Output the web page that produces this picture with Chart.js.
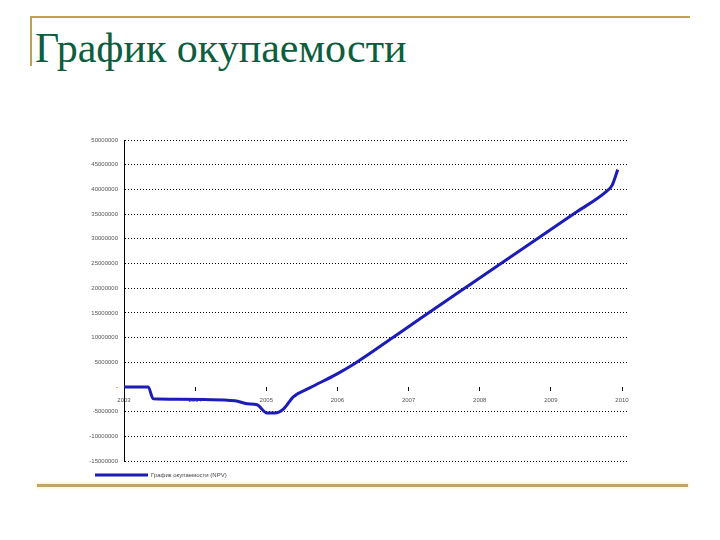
<!DOCTYPE html>
<html lang="ru">
<head>
<meta charset="utf-8">
<title>График окупаемости</title>
<script src="https://cdn.jsdelivr.net/npm/chart.js@4/dist/chart.umd.min.js"></script>
<style>
  html, body { margin: 0; padding: 0; background: #fff; }
  body { width: 720px; height: 540px; position: relative; overflow: hidden; }
  .top-rule { position: absolute; left: 30px; top: 16px; width: 660px; height: 2px; background: #bfa24a; }
  .left-rule { position: absolute; left: 30px; top: 16px; width: 2px; height: 50px; background: #bfa24a; }
  .bottom-rule { position: absolute; left: 37px; top: 484px; width: 651px; height: 3px; background: #c3a565;
    box-shadow: 0 0 3px 1px #fff3c0; }
  h1 { position: absolute; left: 35px; top: 24px; margin: 0; font: 42px "Liberation Serif", "DejaVu Serif", serif;
    color: #0c5e3e; font-weight: normal; }
  #wrap { position: absolute; left: 0; top: 0; width: 720px; height: 540px; }
</style>
</head>
<body>
<div class="top-rule"></div>
<div class="left-rule"></div>
<h1>График окупаемости</h1>
<div class="bottom-rule"></div>
<div id="wrap"><canvas id="chart"></canvas></div>
<script>
// --- DATA ---
const years = [2003.0, 2003.34, 2003.41, 2003.76, 2004.56, 2004.73, 2004.87, 2005.01, 2005.12, 2005.24,
  2005.38, 2005.61, 2005.99, 2006.25, 2006.78, 2007.16, 2007.86, 2008.85, 2009.37, 2009.79, 2009.86, 2009.94];
const npv = [0, 0, -2400000, -2500000, -2800000, -3400000, -3600000, -5300000, -5300000, -4500000,
  -2000000, -200000, 2600000, 4800000, 10000000, 13800000, 20700000, 30400000, 35500000, 39700000, 40800000, 44000000];
const yearTicks = [2003, 2004, 2005, 2006, 2007, 2008, 2009, 2010];
const valueTicks = [-15000000, -10000000, -5000000, 0, 5000000, 10000000, 15000000, 20000000,
  25000000, 30000000, 35000000, 40000000, 45000000, 50000000];
const seriesName = "График окупаемости (NPV)";

// --- CHART ---
const points = years.map((x, i) => ({ x: x, y: npv[i] }));
const lineColor = "#1c1cb8";
const tickFont = { size: 6, family: "Arial, 'Liberation Sans', sans-serif" };

new Chart(document.getElementById("chart"), {
  type: "line",
  data: {
    datasets: [
      {
        label: seriesName,
        data: points,
        borderColor: lineColor,
        backgroundColor: lineColor,
        borderWidth: 3,
        pointRadius: 0,
        pointStyle: "line",
        cubicInterpolationMode: "monotone",
        fill: false,
      },
    ],
  },
  options: {
    responsive: true,
    maintainAspectRatio: false,
    animation: false,
    layout: { padding: { left: 84, right: 93, top: 140, bottom: 52 } },
    plugins: {
      tooltip: { enabled: false },
      legend: {
        position: "bottom",
        align: "start",
        labels: {
          usePointStyle: true,
          pointStyleWidth: 53,
          padding: 11,
          color: "#444",
          font: tickFont,
        },
      },
    },
    scales: {
      x: {
        type: "linear",
        position: { y: 0 },
        min: 2003,
        max: 2010.07,
        afterBuildTicks: (scale) => { scale.ticks = yearTicks.map((v) => ({ value: v })); },
        afterFit: (scale) => { scale.height = 0; },
        border: { display: false },
        grid: { drawOnChartArea: false, drawTicks: true, tickLength: 4, color: "#000" },
        ticks: {
          autoSkip: false,
          maxRotation: 0,
          padding: 6,
          color: "#555",
          font: tickFont,
          callback: (v) => String(v),
        },
      },
      y: {
        min: -15000000,
        max: 50000000,
        afterBuildTicks: (scale) => { scale.ticks = valueTicks.map((v) => ({ value: v })); },
        afterFit: (scale) => { scale.width = 40; },
        border: { display: true, color: "#000", width: 1, dash: [1, 2] },
        grid: {
          drawTicks: false,
          color: (c) => (c.tick && c.tick.value === 0 ? "rgba(0,0,0,0)" : "#000"),
          lineWidth: 1,
        },
        ticks: {
          padding: 6,
          color: "#555",
          font: tickFont,
          callback: (v) => (v === 0 ? "-" : String(v)),
        },
      },
    },
  },
});
</script>
</body>
</html>
